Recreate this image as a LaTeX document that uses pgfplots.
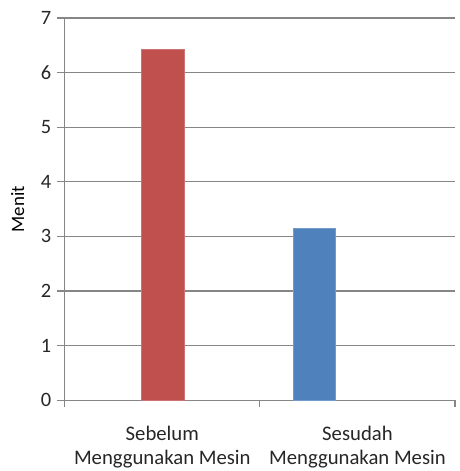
\documentclass[border=0pt]{standalone}
\usepackage{fontspec}
\setmainfont{Carlito}
\usepackage{pgfplots}
\pgfplotsset{compat=1.18}
\definecolor{gridgray}{RGB}{134,134,134}
\definecolor{barred}{RGB}{192,80,77}
\definecolor{barblue}{RGB}{79,129,189}
\begin{document}
\begin{tikzpicture}
\begin{axis}[
  name=ax,
  width=392pt, height=384pt,
  scale only axis,
  xmin=0, xmax=2,
  ymin=0, ymax=7,
  axis x line=bottom, axis y line=left,
  axis line style={-, draw=gridgray, line width=1.2pt},
  ytick={0,1,2,3,4,5,6,7},
  ymajorgrids,
  grid style={gridgray, line width=1.2pt},
  xtick={0.5,1.5},
  xticklabels={{Sebelum\\Menggunakan Mesin},{Sesudah\\Menggunakan Mesin}},
  x tick label style={align=center, yshift=-14pt, font=\fontsize{20.8}{24.5}\selectfont},
  major x tick style={draw=none},
  minor xtick={0,1,2},
  minor x tick style={draw=gridgray, line width=1.2pt},
  y tick style={draw=gridgray, line width=1.2pt},
  tick align=outside,
  major tick length=8pt,
  minor tick length=7pt,
  /pgf/number format/assume math mode=true,
  y tick label style={font=\fontsize{20.5}{24}\selectfont, xshift=-2pt},
  tick label style={text=black!85},
  ylabel={Menit},
  ylabel style={font=\fontsize{19}{22}\selectfont, at={(rel axis cs:0,0.5)}, anchor=south, yshift=37pt},
  clip=false,
]
\addplot[ybar, bar width=43pt, fill=barred, draw=barred!80!white] coordinates {(0.503,6.43)};
\addplot[ybar, bar width=43pt, fill=barblue, draw=barblue!80!white] coordinates {(1.278,3.15)};
\coordinate (o) at (rel axis cs:0,0);
\coordinate (tr) at (rel axis cs:1,1);
\end{axis}
\pgfresetboundingbox
\path[use as bounding box] ([xshift=-65pt,yshift=-71pt]o) rectangle ([xshift=4pt,yshift=18pt]tr);
\end{tikzpicture}
\end{document}
